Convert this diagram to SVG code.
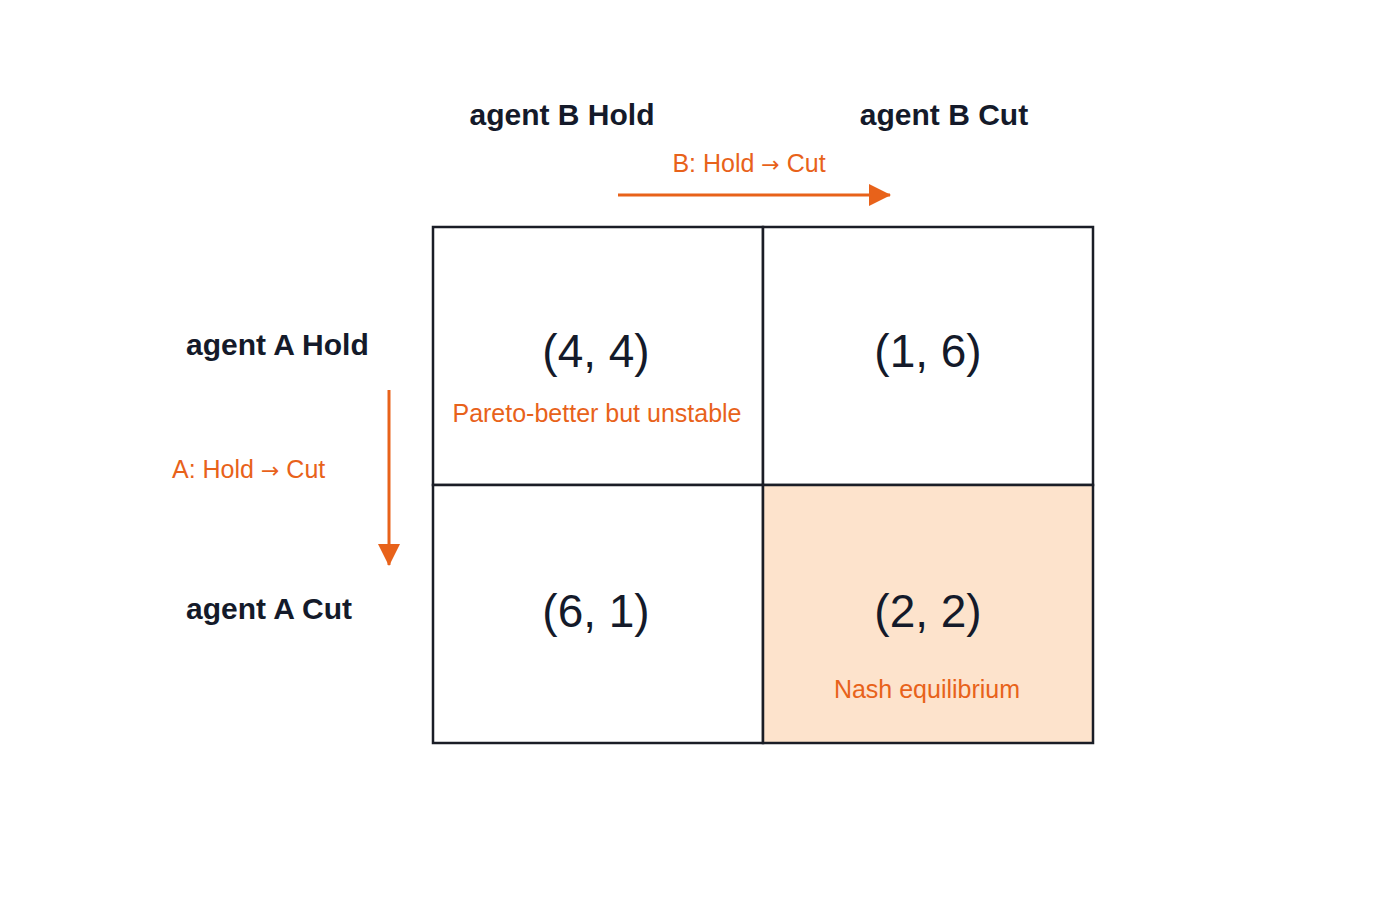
<svg xmlns="http://www.w3.org/2000/svg" width="1400" height="900" viewBox="0 0 1400 900">
<style>
.h{font-family:"Liberation Sans",Arial,sans-serif;font-weight:bold;font-size:30px;fill:#141a2a}
.o{font-family:"Liberation Sans",Arial,sans-serif;font-size:25px;fill:#e8621a}
.ar{font-family:"DejaVu Sans",sans-serif;font-size:22px}
.p{font-family:"Liberation Sans",Arial,sans-serif;font-size:46px;fill:#141a2a;text-anchor:middle}
.c{fill:#fff;stroke:#1a1d26;stroke-width:2.5}
</style>
<defs>
<marker id="a2" markerWidth="22" markerHeight="22" refX="21" refY="11" orient="auto" markerUnits="userSpaceOnUse" viewBox="0 0 22 22"><path d="M0,0 L22,11 L0,22 z" fill="#e8621a"/></marker></defs>
<rect width="1400" height="900" fill="#fff"/>
<text class="h" x="562" y="125" text-anchor="middle">agent B Hold</text>
<text class="h" x="944" y="125" text-anchor="middle">agent B Cut</text>
<text class="h" x="186" y="355">agent A Hold</text>
<text class="h" x="186" y="619">agent A Cut</text>
<text class="o" x="749" y="172" text-anchor="middle">B: Hold <tspan class="ar">→</tspan> Cut</text>
<text class="o" x="172" y="478">A: Hold <tspan class="ar">→</tspan> Cut</text>
<g id="connectors" stroke="#e8621a" stroke-width="3" fill="none">
<line x1="618" y1="195" x2="890" y2="195" marker-end="url(#a2)"/>
<line x1="389" y1="390" x2="389" y2="565" marker-end="url(#a2)"/>
</g>
<g id="cell-hh"><rect class="c" x="433" y="227" width="330" height="258"/><text class="p" x="596" y="367">(4, 4)</text><text class="o" x="597" y="422" text-anchor="middle">Pareto-better but unstable</text></g>
<g id="cell-hc"><rect class="c" x="763" y="227" width="330" height="258"/><text class="p" x="928" y="367">(1, 6)</text></g>
<g id="cell-ch"><rect class="c" x="433" y="485" width="330" height="258"/><text class="p" x="596" y="627">(6, 1)</text></g>
<g id="cell-cc"><rect class="c" x="763" y="485" width="330" height="258" style="fill:#fde3cc"/><text class="p" x="928" y="627">(2, 2)</text><text class="o" x="927" y="698" text-anchor="middle">Nash equilibrium</text></g>
</svg>
